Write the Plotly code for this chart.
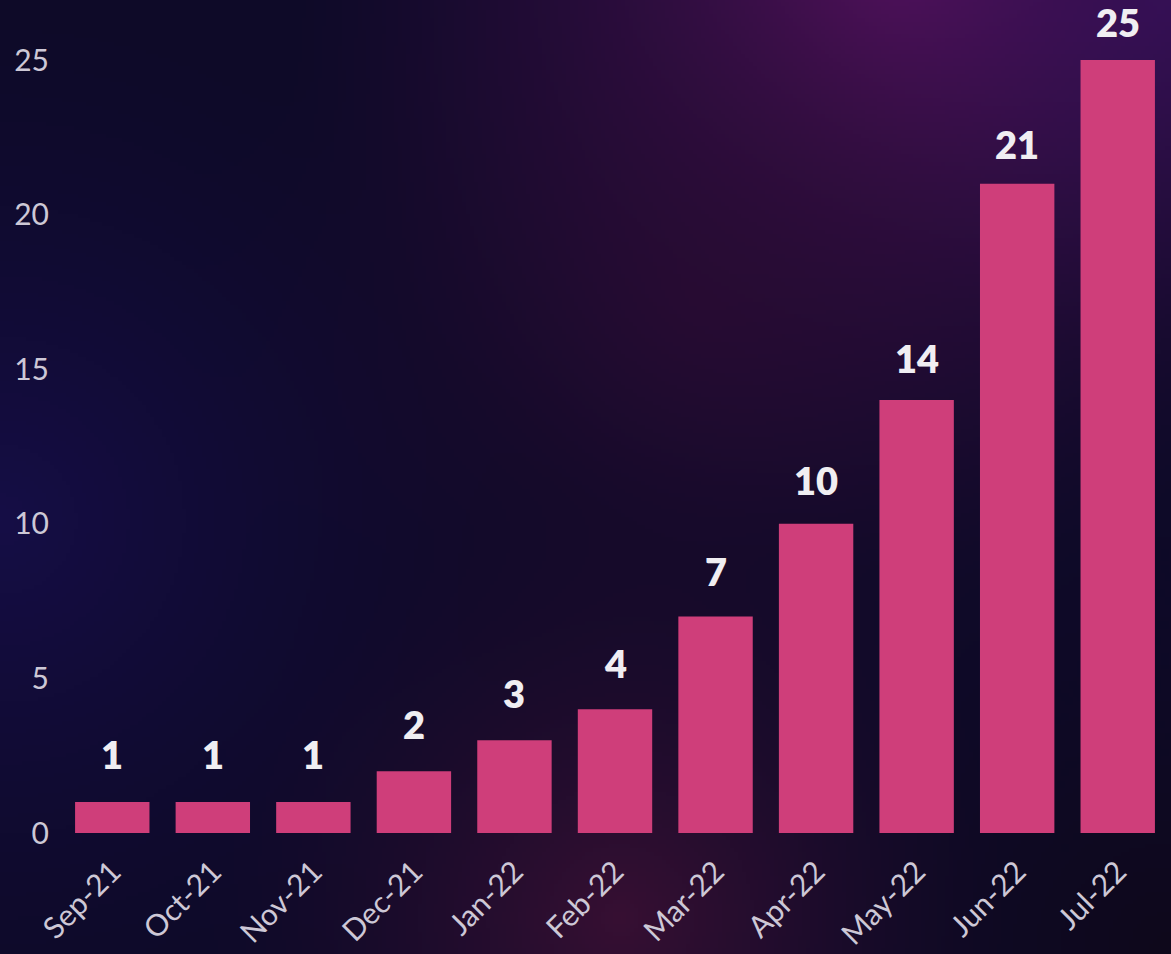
import base64, struct, zlib
import numpy as np
import plotly.graph_objects as go

months = ["Sep-21", "Oct-21", "Nov-21", "Dec-21", "Jan-22", "Feb-22",
          "Mar-22", "Apr-22", "May-22", "Jun-22", "Jul-22"]
counts = [1, 1, 1, 2, 3, 4, 7, 10, 14, 21, 25]
y_ticks = [0, 5, 10, 15, 20, 25]

W, H = 1171, 954


def make_bg(w=293, h=239):
    ys, xs = np.mgrid[0:h, 0:w].astype(float)
    X = xs / (w - 1) * W
    Y = ys / (h - 1) * H
    base = np.array([14, 10, 40], float)
    img = np.ones((h, w, 3)) * base

    def glow(cx, cy, r, col, strength=1.0):
        d = np.sqrt((X - cx) ** 2 + (Y - cy) ** 2) / r
        a = np.clip(1 - d, 0, 1) ** 1.6 * strength
        c = np.array(col, float)
        return a[..., None], c

    for cx, cy, r, col, s in [
        (0, 520, 560, (22, 14, 72), 0.95),
        (900, -40, 640, (86, 18, 96), 1.0),
        (1171, 0, 380, (60, 18, 100), 0.6),
        (620, 920, 440, (60, 16, 52), 0.9),
        (700, 300, 520, (44, 12, 50), 0.7),
    ]:
        a, c = glow(cx, cy, r, col, s)
        img = img * (1 - a) + c * a
    a, c = glow(1171, 954, 420, (14, 8, 24), 0.8)
    img = img * (1 - a) + c * a
    img = np.clip(img, 0, 255).astype(np.uint8)
    raw = b"".join(b"\x00" + img[i].tobytes() for i in range(h))

    def chunk(t, d):
        return struct.pack(">I", len(d)) + t + d + struct.pack(">I", zlib.crc32(t + d) & 0xffffffff)

    png = (b"\x89PNG\r\n\x1a\n" + chunk(b"IHDR", struct.pack(">IIBBBBB", w, h, 8, 2, 0, 0, 0))
           + chunk(b"IDAT", zlib.compress(raw, 9)) + chunk(b"IEND", b""))
    return "data:image/png;base64," + base64.b64encode(png).decode()


FONT = "Lato, 'Open Sans', sans-serif"
fig = go.Figure()
fig.add_trace(go.Bar(x=months, y=counts, marker=dict(color="#cf3e7a", line=dict(width=0)),
                     hoverinfo="skip"))

for m, v in zip(months, counts):
    fig.add_annotation(x=m, y=v, text=str(v), showarrow=False, yanchor="middle",
                       yshift=48 - 0.4 * v,
                       font=dict(family=FONT, size=38, color="#f0eef2", weight=800))

fig.update_layout(
    width=W, height=H,
    margin=dict(l=62, r=3, t=60, b=121, autoexpand=False),
    paper_bgcolor="#0e0a2a", plot_bgcolor="rgba(0,0,0,0)",
    bargap=0.26, showlegend=False,
    images=[dict(source=make_bg(), xref="paper", yref="paper", x=-62 / 1106, y=1 + 60 / 773,
                 sizex=W / 1106, sizey=H / 773, xanchor="left", yanchor="top",
                 sizing="stretch", layer="below")],
)
fig.update_xaxes(showgrid=False, zeroline=False, showline=False, tickangle=-45, automargin=False,
                 tickfont=dict(family=FONT, size=30, color="#cdc8d6"),
                 ticks="outside", ticklen=8, tickcolor="rgba(0,0,0,0)")
fig.update_yaxes(range=[0, 25], tickvals=y_ticks, showgrid=False, zeroline=False, automargin=False,
                 showline=False, tickfont=dict(family=FONT, size=30, color="#cdc8d6"),
                 ticks="outside", ticklen=6, tickcolor="rgba(0,0,0,0)")

fig.write_html("out.html", config={"displayModeBar": False},
               post_script="document.body.style.margin='0';document.body.style.overflow='hidden';")
